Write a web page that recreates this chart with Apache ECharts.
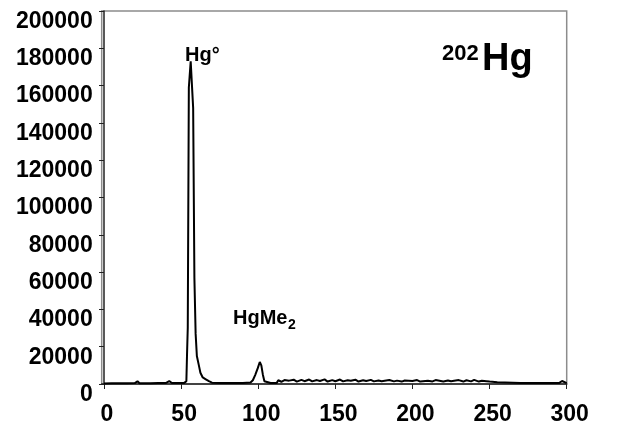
<!DOCTYPE html>
<html>
<head>
<meta charset="utf-8">
<script src="https://cdn.jsdelivr.net/npm/echarts@6/dist/echarts.min.js"></script>
<style>
html,body{margin:0;padding:0;background:#fff;}
#chart{width:617px;height:428px;}
</style>
</head>
<body>
<div id="chart"></div>
<script>
// Retention time (s)
var time = [0, 5, 10, 15, 20, 21.7, 23, 30, 35, 40, 42.3, 44, 48, 52, 53.4, 53.8, 54.3, 55.0, 56.2, 57.8, 58.6, 59.4, 60.2, 61.5, 62.5, 64, 66, 68, 70, 75, 80, 85, 90, 95, 96.5, 98, 99.7, 101, 102, 103, 104, 105, 108, 112, 113, 115, 117, 118, 120, 123, 125, 128, 130, 133, 135, 138, 140, 143, 145, 148, 150, 153, 155, 158, 160, 163, 165, 168, 170, 173, 175, 178, 180, 185, 188, 190, 193, 195, 200, 203, 205, 210, 213, 215, 220, 223, 225, 230, 233, 235, 238, 240, 243, 245, 248, 250, 255, 260, 265, 270, 275, 280, 285, 290, 295, 297, 300];
// 202Hg counts
var counts = [300, 400, 400, 400, 500, 1500, 400, 400, 500, 500, 1600, 500, 500, 600, 1500, 15000, 30000, 159000, 173000, 148000, 57000, 27000, 15000, 10000, 6000, 3500, 2500, 1500, 700, 600, 500, 500, 500, 800, 2000, 4800, 8500, 11800, 10000, 5000, 1500, 600, 500, 600, 2000, 1200, 2100, 1300, 1800, 2300, 1300, 2200, 1500, 2400, 1400, 2100, 1600, 2500, 1300, 2100, 1500, 2400, 1400, 2000, 1700, 2300, 1300, 2000, 1600, 2200, 1400, 1900, 1500, 2100, 1400, 1800, 1300, 1900, 1600, 2100, 1300, 1800, 1400, 2100, 1300, 1900, 1500, 2100, 1300, 2000, 1400, 2200, 1300, 1700, 1500, 1300, 900, 800, 700, 600, 600, 500, 500, 500, 500, 1600, 500];
var xTicks = [0, 50, 100, 150, 200, 250, 300];
var yMax = 200000;
var yStep = 20000;

var data = time.map(function (t, i) { return [t, counts[i]]; });

var chart = echarts.init(document.getElementById('chart'), null, {renderer: 'canvas'});
var lblFont = {fontFamily: 'Liberation Sans, Arial, sans-serif', fontWeight: 'bold', fontSize: 23, color: '#000'};
chart.setOption({
  animation: false,
  backgroundColor: '#fff',
  grid: {left: 101.7, right: 50.3, top: 11, bottom: 44, show: true, borderColor: '#8c8c8c', borderWidth: 1.5, containLabel: false},
  xAxis: {
    type: 'value', min: -1.5, max: 300,
    splitLine: {show: false},
    axisLine: {show: true, onZero: false, lineStyle: {color: '#222', width: 1.5}},
    axisTick: {show: true, length: 5, customValues: xTicks, lineStyle: {color: '#222'}},
    axisLabel: Object.assign({margin: 19, customValues: xTicks, padding: [0, 0, 0, 6]}, lblFont)
  },
  yAxis: {
    type: 'value', min: 0, max: yMax, interval: yStep,
    splitLine: {show: false},
    axisLine: {show: true, lineStyle: {color: '#222', width: 1.5}},
    axisTick: {show: true, length: 5, lineStyle: {color: '#222'}},
    axisLabel: Object.assign({margin: 9, verticalAlign: 'top', lineHeight: 21, formatter: function (v) { return String(v); }}, lblFont)
  },
  series: [{
    type: 'line', data: data, showSymbol: false, smooth: false,
    lineStyle: {color: '#000', width: 2}, z: 3
  }],
  graphic: [
    {type: 'text', left: 185, top: 45, style: {text: 'Hg°', font: 'bold 20px "Liberation Sans", Arial, sans-serif', fill: '#000'}, z: 10},
    {type: 'text', left: 233, top: 308, style: {text: 'HgMe', font: 'bold 20px "Liberation Sans", Arial, sans-serif', fill: '#000'}, z: 10},
    {type: 'text', left: 288, top: 318, style: {text: '2', font: 'bold 14px "Liberation Sans", Arial, sans-serif', fill: '#000'}, z: 10},
    {type: 'text', left: 442, top: 43, style: {text: '202', font: 'bold 22px "Liberation Sans", Arial, sans-serif', fill: '#000'}, z: 10},
    {type: 'text', left: 482, top: 41, style: {text: 'Hg', font: 'bold 38px "Liberation Sans", Arial, sans-serif', fill: '#000'}, z: 10}
  ]
});
</script>
</body>
</html>
